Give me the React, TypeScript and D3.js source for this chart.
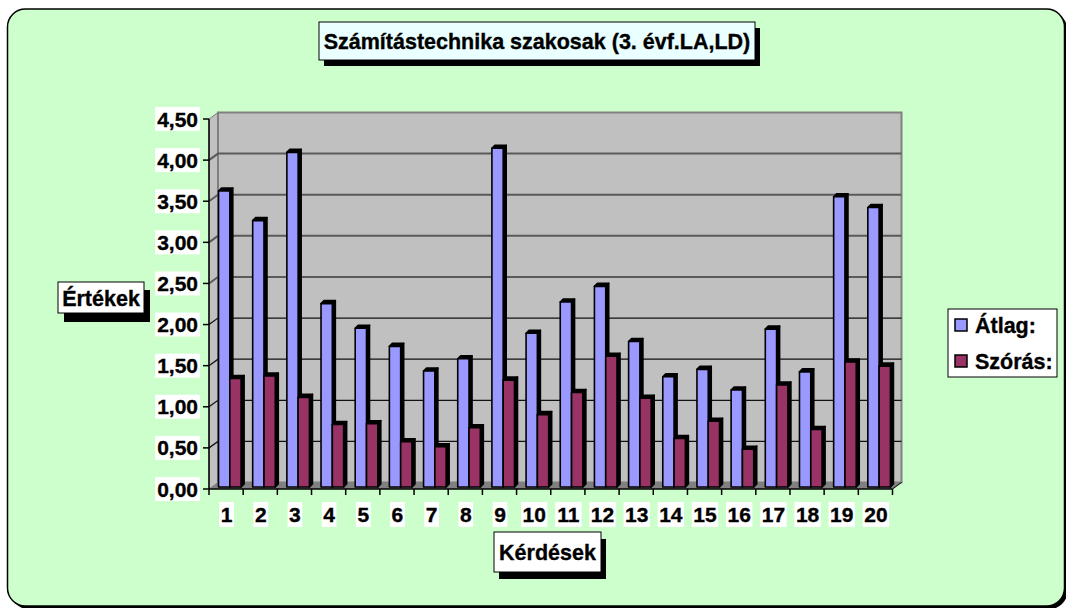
import React from "react";
import * as d3 from "d3";

const categories = ["1","2","3","4","5","6","7","8","9","10","11","12","13","14","15","16","17","18","19","20"];
const atlag = [3.60, 3.24, 4.07, 2.23, 1.93, 1.71, 1.41, 1.56, 4.12, 1.87, 2.25, 2.44, 1.77, 1.34, 1.43, 1.18, 1.92, 1.40, 3.53, 3.40];
const szoras = [1.32, 1.35, 1.09, 0.76, 0.77, 0.55, 0.49, 0.72, 1.30, 0.88, 1.15, 1.59, 1.08, 0.59, 0.80, 0.46, 1.24, 0.70, 1.52, 1.47];
const yTicks = [0, 0.5, 1, 1.5, 2, 2.5, 3, 3.5, 4, 4.5];
const seriesNames = ["Átlag:", "Szórás:"];
const seriesColors = ["#9999FF", "#993366"];
const title = "Számítástechnika szakosak (3. évf.LA,LD)";
const yTitle = "Értékek";
const xTitle = "Kérdések";

const FONT = "'Liberation Sans', Arial, Helvetica, sans-serif";

export default function App() {
  const W = 1066, H = 608;
  const x = d3.scaleBand().domain(categories).range([209, 892.5]).paddingInner(0).paddingOuter(0);
  const yF = d3.scaleLinear().domain([0, 4.5]).range([489, 119]);
  const DX = 9, DY = -6.5; // back wall offset
  const bdy = -2; // bar depth offset
  const yB = (v: number) => yF(v) + bdy;
  const bw = 11.3;
  const d = 3;
  const fmt = (v: number) => d3.format(".2f")(v).replace(".", ",");
  const xL = x.range()[0], xR = x.range()[1];
  const y0 = yF(0), yTop = yF(4.5);

  const bar = (bx: number, v: number, color: string, key: string) => {
    const yt = yB(v), yb = yB(0);
    return (
      <g key={key} stroke="#000" strokeWidth={1.6} strokeLinejoin="round">
        <polygon points={`${bx + bw},${yt} ${bx + bw + d},${yt - d} ${bx + bw + d},${yb - d} ${bx + bw},${yb}`} fill="#000" />
        <polygon points={`${bx},${yt} ${bx + d},${yt - d} ${bx + bw + d},${yt - d} ${bx + bw},${yt}`} fill="#000" />
        <rect x={bx} y={yt} width={bw} height={yb - yt} fill={color} />
      </g>
    );
  };

  const numW = (s: string, fs: number) => {
    let w = 0;
    for (const ch of s) w += ch === "," ? 0.278 : 0.556;
    return w * fs;
  };

  const txt = { fontWeight: "bold" as const, stroke: "#000", strokeWidth: 0.35, fill: "#000" };

  return (
    <svg width={W} height={H} style={{ position: "absolute", left: 0, top: 0 }} fontFamily={FONT}>
      {/* chart area */}
      <rect x={10.5} y={12} width={1057} height={597} rx={18} fill="#000" />
      <rect x={7.5} y={9} width={1057} height={597} rx={18} fill="#CCFFCC" stroke="#000" strokeWidth={1.5} />

      {/* walls */}
      <polygon points={`${xL},${y0} ${xL},${yTop} ${xL + DX},${yTop + DY} ${xL + DX},${y0 + DY}`} fill="#C0C0C0" stroke="#808080" strokeWidth={1} />
      <rect x={xL + DX} y={yTop + DY} width={xR + DX - (xL + DX)} height={y0 - yTop} fill="#C0C0C0" stroke="#808080" strokeWidth={2} />
      <polygon points={`${xL},${y0} ${xL + DX},${y0 + DY} ${xR + DX},${y0 + DY} ${xR},${y0}`} fill="#808080" />

      {/* gridlines */}
      {yTicks.filter(v => v > 0 && v < 4.5).map(v => (
        <polyline key={"g" + v} points={`${xL},${yF(v)} ${xL + DX},${yF(v) + DY} ${xR + DX},${yF(v) + DY}`} fill="none"
          stroke={v > 2.25 ? "#5a5a5a" : "#111"} strokeWidth={v > 2.25 ? 2 : 1.3} />
      ))}

      {/* bars */}
      {categories.map((c, i) => {
        const bx = (x(c) as number) + 9.5;
        return (
          <g key={"c" + c}>
            {bar(bx, atlag[i], seriesColors[0], "a" + c)}
            {bar(bx + bw, szoras[i], seriesColors[1], "s" + c)}
          </g>
        );
      })}

      {/* axes */}
      <line x1={xL} y1={yTop} x2={xL} y2={y0} stroke="#000" strokeWidth={1.5} />
      <line x1={xL} y1={y0} x2={xR} y2={y0} stroke="#000" strokeWidth={1.5} />
      <line x1={xR} y1={y0} x2={xR + DX} y2={y0 + DY} stroke="#000" strokeWidth={1} />
      {yTicks.map(v => (
        <line key={"yt" + v} x1={xL - 6} y1={yF(v)} x2={xL} y2={yF(v)} stroke="#000" strokeWidth={1.5} />
      ))}
      {categories.concat(["end"]).map((c, i) => {
        const tx = xL + i * x.bandwidth();
        return <line key={"xt" + i} x1={tx} y1={y0} x2={tx} y2={y0 + 6} stroke="#000" strokeWidth={1.5} />;
      })}

      {/* y tick labels */}
      {yTicks.map(v => {
        const s = fmt(v);
        const w = numW(s, 21) + 3;
        return (
          <g key={"yl" + v}>
            <rect x={199 - w} y={yF(v) - 12} width={w + 1} height={24} fill="#fff" />
            <text x={198} y={yF(v)} dy="0.36em" textAnchor="end" fontSize={21} {...txt}>{s}</text>
          </g>
        );
      })}

      {/* x tick labels */}
      {categories.map(c => {
        const cx = (x(c) as number) + x.bandwidth() / 2 + 0.5;
        const w = numW(c, 21) + 3;
        return (
          <g key={"xl" + c}>
            <rect x={cx - w / 2} y={502} width={w} height={25} fill="#fff" />
            <text x={cx} y={514.5} dy="0.36em" textAnchor="middle" fontSize={21} {...txt}>{c}</text>
          </g>
        );
      })}

      {/* title */}
      <rect x={324} y={28} width={436} height={38} fill="#000" />
      <rect x={319} y={22} width={436} height={38} fill="#EAFFFF" stroke="#000" strokeWidth={1} />
      <text x={537} y={41} dy="0.36em" textAnchor="middle" fontSize={21.5} {...txt}>{title}</text>

      {/* y title */}
      <rect x={64} y={290} width={86} height={32} fill="#000" />
      <rect x={58} y={282} width={86} height={31} fill="#fff" stroke="#000" strokeWidth={1} />
      <text x={101} y={298} dy="0.36em" textAnchor="middle" fontSize={21.5} {...txt}>{yTitle}</text>

      {/* x title */}
      <rect x={499} y={539} width={107} height={40} fill="#000" />
      <rect x={494} y={532} width={107} height={40} fill="#fff" stroke="#000" strokeWidth={1} />
      <text x={547.5} y={552} dy="0.36em" textAnchor="middle" fontSize={21.5} {...txt}>{xTitle}</text>

      {/* legend */}
      <rect x={948} y={309} width={109} height={68} fill="#fff" stroke="#000" strokeWidth={1} />
      {seriesNames.map((n, i) => {
        const cy = 325 + i * 36;
        return (
          <g key={"lg" + i}>
            <rect x={955} y={cy - 6} width={12} height={12} fill={seriesColors[i]} stroke="#000" strokeWidth={1.5} />
            <text x={975} y={cy} dy="0.36em" fontSize={21.5} {...txt}>{n}</text>
          </g>
        );
      })}
    </svg>
  );
}
